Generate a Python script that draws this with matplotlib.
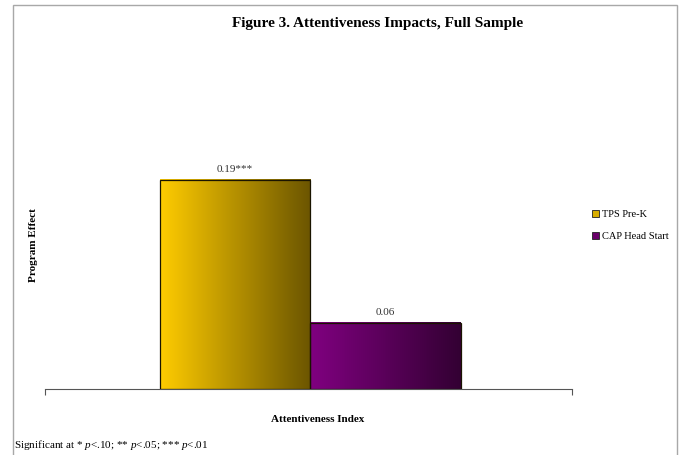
import numpy as np
import matplotlib
matplotlib.use("Agg")
import matplotlib.pyplot as plt
from matplotlib.colors import LinearSegmentedColormap
from matplotlib.patches import Rectangle, Patch

plt.rcParams['font.family'] = ['Liberation Serif', 'DejaVu Serif']
plt.rcParams['mathtext.fontset'] = 'custom'
plt.rcParams['mathtext.rm'] = 'Liberation Serif'
plt.rcParams['mathtext.it'] = 'Liberation Serif:italic'

# impact estimates
programs = ['TPS Pre-K', 'CAP Head Start']
effects = [0.19, 0.06]
labels = ['0.19***', '0.06']
category = 'Attentiveness Index'

# gradient colour pairs (left -> right)
grads = [('#FFCC00', '#6B5500'), ('#800080', '#330033')]
legend_cols = ['#D9AE00', '#6A006A']

W, H = 681, 455
fig = plt.figure(figsize=(W / 100, H / 100), dpi=100)

# outer frame
fig.patches.append(Rectangle((13 / W, -0.05), (677 - 13) / W, 1 - 5 / H + 0.05,
                             transform=fig.transFigure, fill=False,
                             edgecolor='#a8a8a8', linewidth=1.0))

ax = fig.add_axes([45 / W, (H - 389) / H, (572 - 45) / W, (389 - 50) / H])
bw = 0.2856
mid = 0.003
offsets = [mid - bw / 2, mid + bw / 2]
grad = np.linspace(0, 1, 256).reshape(1, -1)
for off, val, lab, (c0, c1) in zip(offsets, effects, labels, grads):
    cmap = LinearSegmentedColormap.from_list('g', [c0, c1])
    x0, x1 = off - bw / 2, off + bw / 2
    ax.imshow(grad, extent=[x0, x1, 0, val], cmap=cmap, aspect='auto',
              interpolation='bicubic', zorder=2)
    ax.bar(off, val, width=bw, facecolor='none', edgecolor='#1a1400',
           linewidth=0.9, zorder=3)
    ax.text(off, val + 0.005, lab, ha='center', va='bottom', fontsize=8,
            color='#333333')

ax.set_xlim(-0.5, 0.5)
ax.set_ylim(0, 0.308)
for s in ['top', 'right', 'left']:
    ax.spines[s].set_visible(False)
ax.spines['bottom'].set_color('#555555')
ax.set_yticks([])
ax.set_xticks([-0.5, 0.5])
ax.set_xticklabels([])
ax.tick_params(axis='x', length=4, color='#555555')

fig.text(318 / W, 1 - 420 / H, category, ha='center', va='center',
         fontsize=8, fontweight='bold')
fig.text(33 / W, 1 - 245 / H, 'Program Effect', rotation=90, ha='center',
         va='center', fontsize=8, fontweight='bold')
fig.text(378 / W, 1 - 24 / H, 'Figure 3. Attentiveness Impacts, Full Sample',
         ha='center', va='center', fontsize=11, fontweight='bold')
fig.text(14 / W, 1 - 445 / H,
         'Significant at * $\\it{p}$<.10; ** $\\it{p}$<.05; *** $\\it{p}$<.01',
         ha='left', va='center', fontsize=8)

handles = [Patch(facecolor=c, edgecolor='#222222', linewidth=0.6) for c in legend_cols]
fig.legend(handles, programs, loc='upper left',
           bbox_to_anchor=(588 / W, 1 - 206 / H), frameon=False, fontsize=7.5,
           handlelength=0.7, handleheight=0.7, handletextpad=0.2,
           labelspacing=1.2, borderaxespad=0)

fig.savefig('out.png', dpi=100)
